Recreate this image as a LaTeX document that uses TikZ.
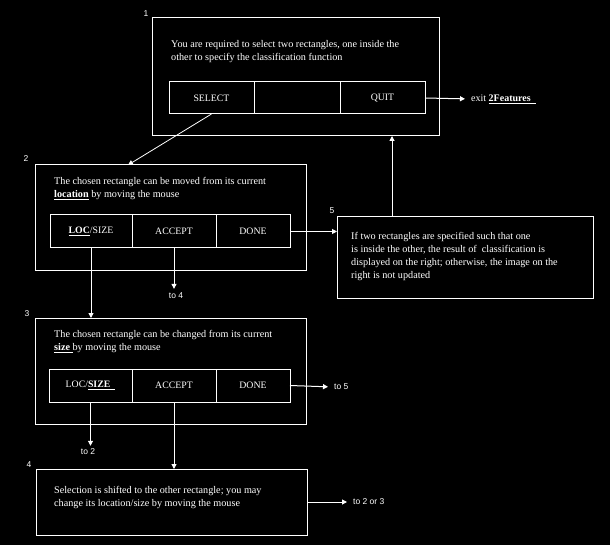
\documentclass[tikz,border=0pt]{standalone}
\usepackage{fontspec}
\setmainfont{Liberation Serif}
\newfontfamily\lblfont{Liberation Sans}
\usetikzlibrary{arrows.meta,calc}
\begin{document}
\begin{tikzpicture}[x=1pt,y=-1pt,
  box/.style={draw=white,line width=1pt,anchor=north west,inner sep=0pt,outer sep=0pt},
  btn/.style={draw=white,line width=1pt,anchor=north west,inner sep=0pt,outer sep=0pt,text=white,font=\fontsize{9.8}{11}\selectfont},
  body/.style={anchor=north west,align=left,text=white,inner sep=0pt,font=\fontsize{10.2}{13}\selectfont},
  num/.style={text=white,inner sep=1pt,font=\lblfont\fontsize{8.5}{10}\selectfont},
  arr/.style={draw=white,line width=1pt,-{Triangle[length=5pt,width=5pt]}},
  ln/.style={draw=white,line width=1pt}]
\fill[black] (0,0) rectangle (610,545);
\useasboundingbox (0,0) rectangle (610,545);

% Box 1
\node[box,minimum width=287pt,minimum height=118pt] (b1) at (152,18) {};
\node[num] (n1) at (146,14) {1};
\node[body] (t1) at (171,40) {You are required to select two rectangles, one inside the\\other to specify the classification function};
\node[btn,minimum width=85pt,minimum height=32pt] (s1) at (169,82) {SELECT};
\node[btn,minimum width=86pt,minimum height=32pt] (m1) at (254,82) {};
\node[btn,minimum width=85pt,minimum height=32pt] (q1) at (340,82) {QUIT};
\node[anchor=west,text=white,inner sep=0pt,font=\fontsize{10}{11}\selectfont] (ex) at (471,99) {exit \underline{\textbf{2Features}\ \ }};

% Box 2
\node[box,minimum width=271pt,minimum height=106pt] (b2) at (35,165) {};
\node[num] (n2) at (26,159) {2};
\node[body] (t2) at (54,177) {The chosen rectangle can be moved from its current\\\underline{\textbf{location}} by moving the mouse};
\node[btn,minimum width=82pt,minimum height=33pt] (l2) at (50,215) {\underline{\textbf{LOC}}/SIZE};
\node[btn,minimum width=84pt,minimum height=33pt] (a2) at (132,215) {ACCEPT};
\node[btn,minimum width=74pt,minimum height=33pt] (d2) at (216,215) {DONE};
\node[num] (to4) at (176,296) {to 4};

% Box 5
\node[box,minimum width=256pt,minimum height=81pt] (b5) at (337,217) {};
\node[num] (n5) at (332,211) {5};
\node[body] (t5) at (351,232) {If two rectangles are specified such that one\\is inside the other, the result of\ \ classification is\\displayed on the right; otherwise, the image on the\\right is not updated};

% Box 3
\node[box,minimum width=271pt,minimum height=106pt] (b3) at (35,318) {};
\node[num] (n3) at (27,314) {3};
\node[body] (t3) at (54,330) {The chosen rectangle can be changed from its current\\\underline{\textbf{size}\ }by moving the mouse};
\node[btn,minimum width=83pt,minimum height=33pt] (l3) at (49,369) {LOC/\underline{\textbf{SIZE}\ \ }};
\node[btn,minimum width=84pt,minimum height=33pt] (a3) at (132,369) {ACCEPT};
\node[btn,minimum width=74pt,minimum height=33pt] (d3) at (216,369) {DONE};
\node[num] (to2) at (88,452) {to 2};
\node[num,anchor=west] (to5) at (333,387) {to 5};

% Box 4
\node[box,minimum width=271pt,minimum height=66pt] (b4) at (36,469) {};
\node[num] (n4) at (29,465) {4};
\node[body] (t4) at (54,486) {Selection is shifted to the other rectangle; you may\\change its location/size by moving the mouse};
\node[num,anchor=west] (to23) at (352,502) {to 2 or 3};

% Connectors
\draw[arr,shorten >=6pt] (q1.east) -- (ex.west);
\draw[arr,line width=0.8pt] (s1.south) -- ($(b2.north west)+(93,0)$);
\draw[arr,shorten >=3pt] (a2.south) -- (a2.south |- to4.north);
\draw[arr] (l2.south) -- (l2.south |- b3.north);
\draw[arr] (d2.east) -- (d2.east -| b5.west);
\coordinate (c5) at ($(b5.north west)+(55,0)$);
\draw[arr] (c5) -- (c5 |- b1.south);
\draw[arr,shorten >=2pt] (l3.south) -- (l3.south |- to2.north);
\draw[arr,shorten >=5pt] (d3.east) -- (to5.west);
\draw[arr] (a3.south) -- (a3.south |- b4.north);
\draw[arr,shorten >=5pt] (b4.east) -- (to23.west);
\end{tikzpicture}
\end{document}
